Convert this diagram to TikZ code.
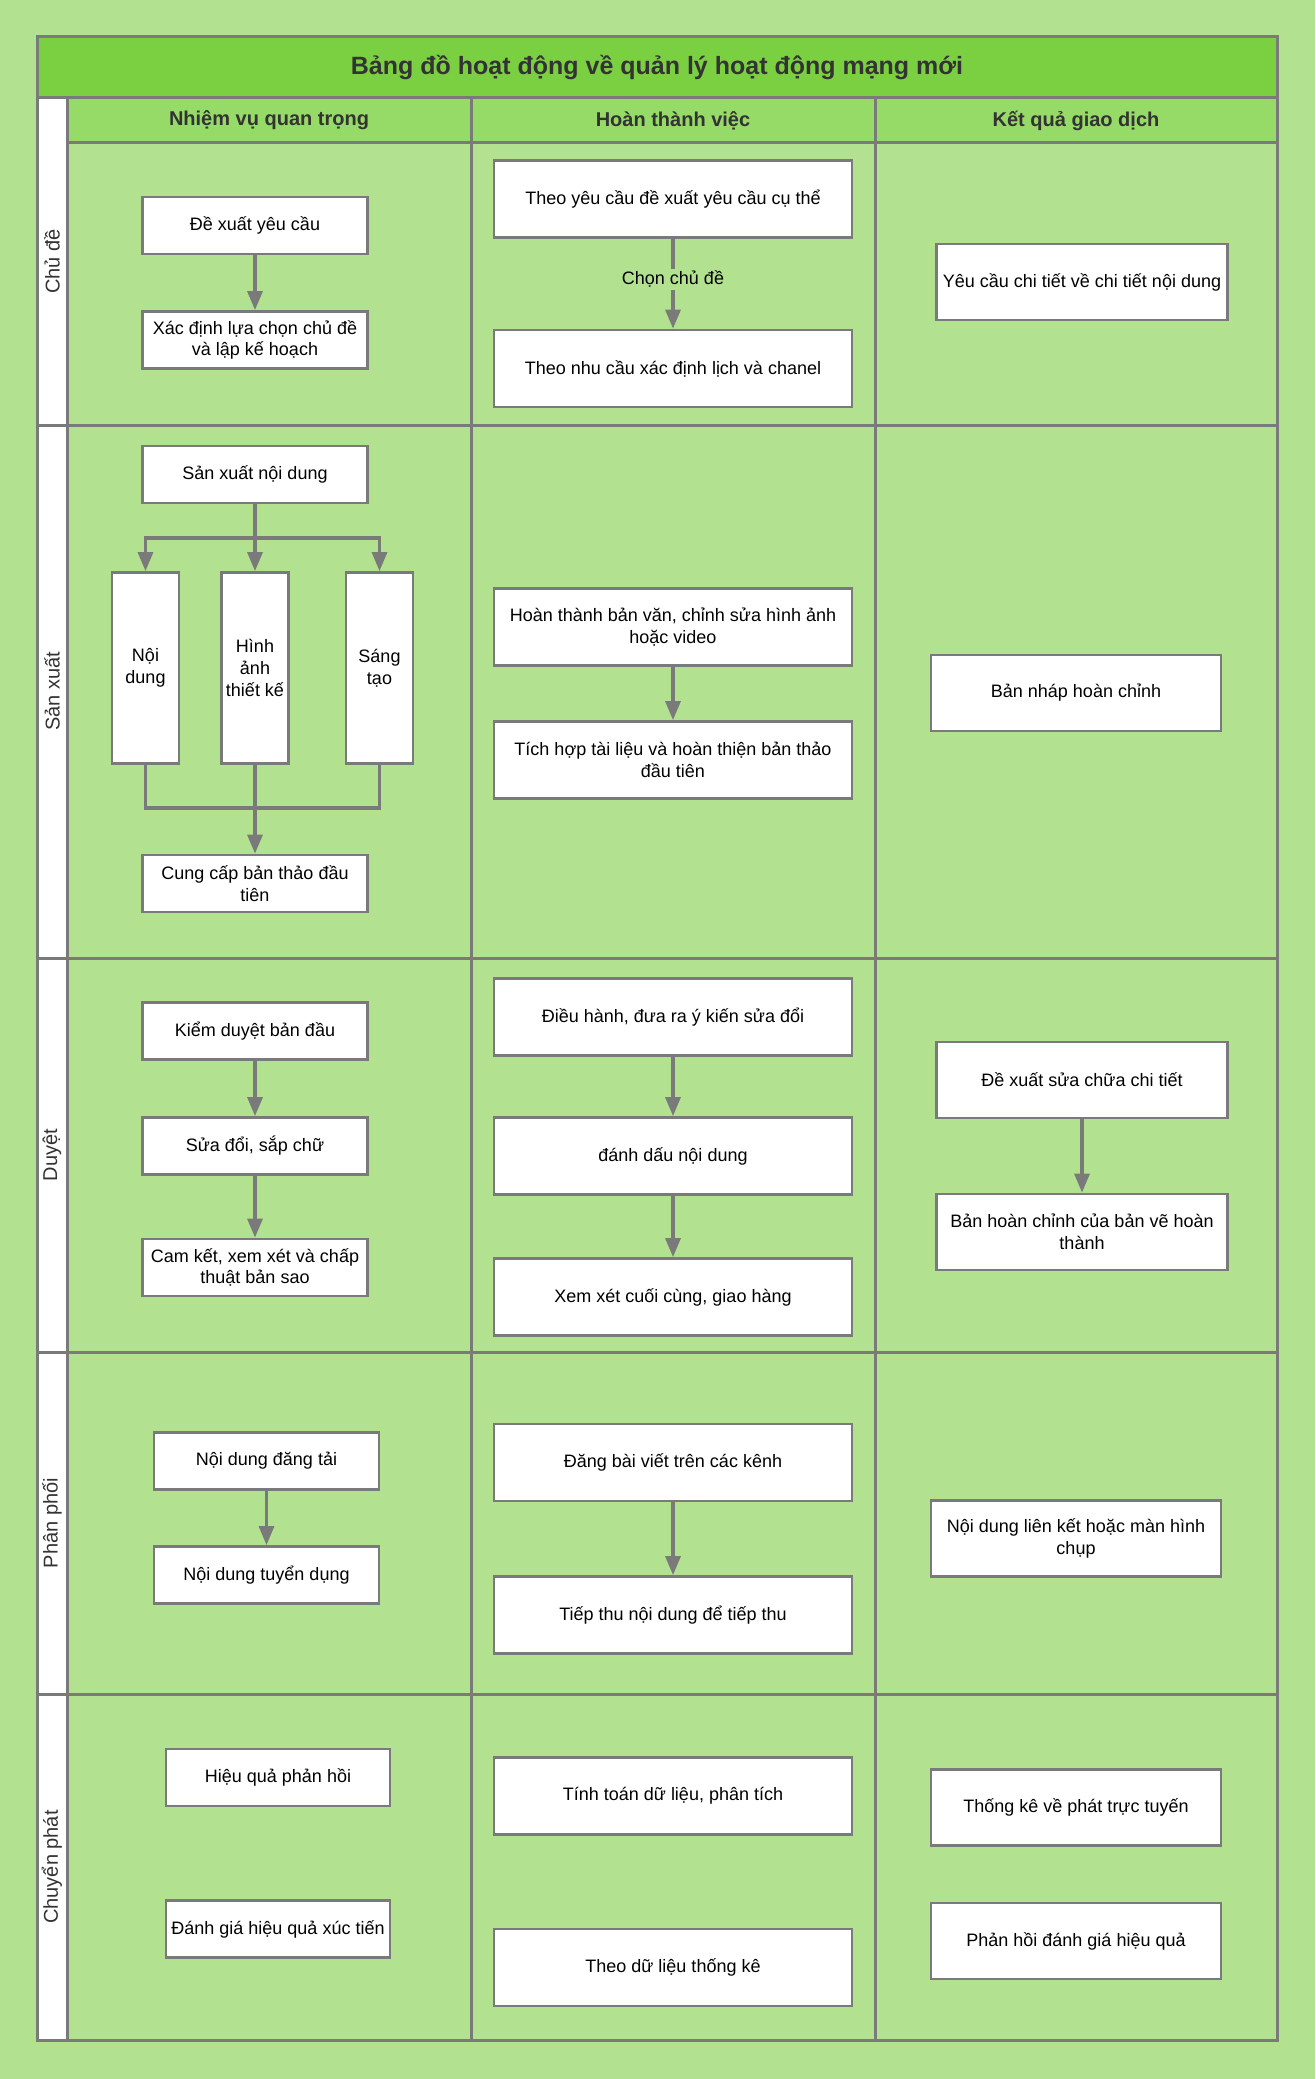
\documentclass[tikz,border=0pt]{standalone}
\usepackage{fontspec}
\setmainfont{Liberation Sans}
\definecolor{pagegreen}{HTML}{B2E28F}
\definecolor{titlegreen}{HTML}{7BD042}
\definecolor{headgreen}{HTML}{96DA68}
\definecolor{gridgray}{HTML}{7A7A7A}
\definecolor{inkgray}{HTML}{333333}
\usepackage{tikz}
\usetikzlibrary{arrows.meta, positioning}
\usepackage{xcolor}

\begin{document}
\begin{tikzpicture}[x=1pt, y=-1pt,
  grid/.style={draw=gridgray, line width=3pt},
  task/.style={draw=gridgray, fill=white, line width=2.8pt, minimum width=225pt,
               minimum height=57pt, inner sep=1pt, align=center,
               font=\fontsize{18}{21.6}\selectfont},
  wide/.style={task, minimum width=358pt, minimum height=77pt},
  outcome/.style={task, minimum width=290pt, minimum height=76pt},
  tall/.style={task, minimum width=67pt, minimum height=191pt},
  lane/.style={rotate=90, text=inkgray, font=\fontsize{20}{24}\selectfont},
  head/.style={text=inkgray, font=\fontsize{20}{24}\selectfont\bfseries},
  flow/.style={draw=gridgray, line width=3.2pt, -{Triangle[width=15pt, length=19pt]}},
  wire/.style={draw=gridgray, line width=3.2pt},
  edgelabel/.style={fill=pagegreen, inner sep=2pt, font=\fontsize{18}{21.6}\selectfont}
]
  \useasboundingbox (0,0) rectangle (1315,2079);
  \fill[pagegreen] (0,0) rectangle (1315,2079);

  % Frame
  \fill[titlegreen] (37,37) rectangle (1277,98);
  \fill[headgreen] (67,98) rectangle (1277,143);
  \fill[white] (37,98) rectangle (67,2040);
  \draw[grid] (37,37) rectangle (1277,2040);
  \draw[grid] (37,98) -- (1277,98);
  \draw[grid] (67,143) -- (1277,143);
  \draw[grid] (37,425) -- (1277,425);
  \draw[grid] (37,958) -- (1277,958);
  \draw[grid] (37,1352) -- (1277,1352);
  \draw[grid] (37,1694) -- (1277,1694);
  \draw[grid] (67,98) -- (67,2040);
  \draw[grid] (471,98) -- (471,2040);
  \draw[grid] (875,98) -- (875,2040);

  % Title and headers
  \node[text=inkgray, font=\fontsize{25}{30}\selectfont\bfseries] (title) at (657,67.5)
    {Bảng đồ hoạt động về quản lý hoạt động mạng mới};
  \node[head] (h1) at (269,120.5) {Nhiệm vụ quan trọng};
  \node[head] (h2) at (673,120.5) {Hoàn thành việc};
  \node[head] (h3) at (1076,120.5) {Kết quả giao dịch};

  % Lanes
  \node[lane] (l1) at (52,261.5) {Chủ đề};
  \node[lane] (l2) at (52,691.5) {Sản xuất};
  \node[lane] (l3) at (52,1155) {Duyệt};
  \node[lane] (l4) at (52,1523) {Phân phối};
  \node[lane] (l5) at (52,1867) {Chuyển phát};

  % Chu de
  \node[task] (propose) at (255,225.5) {Đề xuất yêu cầu};
  \node[task] (plan) at (255,340) {Xác định lựa chọn chủ đề\\và lập kế hoạch};
  \node[wide] (req) at (673,199) {Theo yêu cầu đề xuất yêu cầu cụ thể};
  \node[wide] (sched) at (673,368.5) {Theo nhu cầu xác định lịch và chanel};
  \node[outcome, minimum width=291pt] (detail) at (1082,282) {Yêu cầu chi tiết về chi tiết nội dung};

  % San xuat
  \node[task] (prod) at (255,474.5) {Sản xuất nội dung};
  \node[tall] (t1) at (145.5,668) {Nội\\dung};
  \node[tall] (t2) at (255,668) {Hình\\ảnh\\thiết kế};
  \node[tall] (t3) at (379.5,668) {Sáng\\tạo};
  \node[task] (draft) at (255,883.5) {Cung cấp bản thảo đầu\\tiên};
  \node[wide] (edit) at (673,627) {Hoàn thành bản văn, chỉnh sửa hình ảnh\\hoặc video};
  \node[wide] (merge) at (673,760) {Tích hợp tài liệu và hoàn thiện bản thảo\\đầu tiên};
  \node[outcome] (full) at (1076,693) {Bản nháp hoàn chỉnh};
  \coordinate (split) at (255,538);
  \coordinate (join) at (255,808);

  % Duyet
  \node[task] (check) at (255,1031) {Kiểm duyệt bản đầu};
  \node[task] (typeset) at (255,1146) {Sửa đổi, sắp chữ};
  \node[task] (approve) at (255,1267.5) {Cam kết, xem xét và chấp\\thuật bản sao};
  \node[wide] (steer) at (673,1017) {Điều hành, đưa ra ý kiến sửa đổi};
  \node[wide] (mark) at (673,1156) {đánh dấu nội dung};
  \node[wide] (final) at (673,1297) {Xem xét cuối cùng, giao hàng};
  \node[outcome, minimum width=291pt] (fix) at (1082,1080) {Đề xuất sửa chữa chi tiết};
  \node[outcome, minimum width=291pt] (done) at (1082,1232) {Bản hoàn chỉnh của bản vẽ hoàn\\thành};

  % Phan phoi
  \node[task] (upload) at (266.5,1461) {Nội dung đăng tải};
  \node[task] (recruit) at (266.5,1575) {Nội dung tuyển dụng};
  \node[wide] (post) at (673,1462.5) {Đăng bài viết trên các kênh};
  \node[wide] (absorb) at (673,1615) {Tiếp thu nội dung để tiếp thu};
  \node[outcome] (link) at (1076,1538.5) {Nội dung liên kết hoặc màn hình\\chụp};

  % Chuyen phat
  \node[task, minimum width=224pt] (resp) at (278,1777.5) {Hiệu quả phản hồi};
  \node[task, minimum width=224pt] (promo) at (278,1929) {Đánh giá hiệu quả xúc tiến};
  \node[wide] (calc) at (673,1796) {Tính toán dữ liệu, phân tích};
  \node[wide] (stats) at (673,1967.5) {Theo dữ liệu thống kê};
  \node[outcome] (stream) at (1076,1807.5) {Thống kê về phát trực tuyến};
  \node[outcome] (eval) at (1076,1941) {Phản hồi đánh giá hiệu quả};

  % Arrows
  \draw[flow] (propose) -- (plan);
  \draw[flow] (req) -- node[edgelabel, pos=0.45] (pick) {Chọn chủ đề} (sched);
  \draw[flow] (prod) -- (t2);
  \draw[flow] (split) -| (t1);
  \draw[flow] (split) -| (t3);
  \draw[wire] (t1) |- (join);
  \draw[wire] (t3) |- (join);
  \draw[flow] (t2) -- (draft);
  \draw[flow] (edit) -- (merge);
  \draw[flow] (check) -- (typeset);
  \draw[flow] (typeset) -- (approve);
  \draw[flow] (steer) -- (mark);
  \draw[flow] (mark) -- (final);
  \draw[flow] (fix) -- (done);
  \draw[flow] (upload) -- (recruit);
  \draw[flow] (post) -- (absorb);
\end{tikzpicture}
\end{document}
